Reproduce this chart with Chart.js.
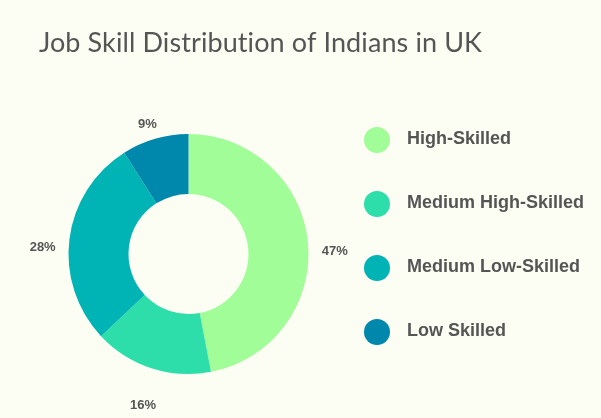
<!DOCTYPE html>
<html>
<head>
<meta charset="utf-8">
<script src="https://cdn.jsdelivr.net/npm/chart.js@4/dist/chart.umd.min.js"></script>
<style>
  html, body { margin: 0; padding: 0; background: #fcfdf3; }
  #wrap { position: relative; width: 601px; height: 418px; }
</style>
</head>
<body>
<div id="wrap"><canvas id="c" width="601" height="418"></canvas></div>
<script>
const titleText = 'Job Skill Distribution of Indians in UK';
const categories = ['High-Skilled', 'Medium High-Skilled', 'Medium Low-Skilled', 'Low Skilled'];
const shares = [47, 16, 28, 9];
const colors = ['#a0fd97', '#2ddeaa', '#00b3b4', '#0087ac'];

const textColor = '#555555';

const overlay = {
  id: 'overlay',
  afterDraw(chart) {
    const ctx = chart.ctx;
    ctx.save();
    // title
    ctx.fillStyle = textColor;
    ctx.font = '400 27px Lato';
    if ('letterSpacing' in ctx) ctx.letterSpacing = '0.1px';
    ctx.textAlign = 'center';
    ctx.textBaseline = 'alphabetic';
    ctx.fillText(titleText, 260.5, 51.5);
    if ('letterSpacing' in ctx) ctx.letterSpacing = '0px';

    // value labels outside arcs
    const meta = chart.getDatasetMeta(0);
    ctx.textBaseline = 'middle';
    ctx.font = 'bold 13px "Liberation Sans"';
    meta.data.forEach((arc, i) => {
      const p = arc.getProps(['x', 'y', 'startAngle', 'endAngle', 'outerRadius'], true);
      const mid = (p.startAngle + p.endAngle) / 2;
      const r = p.outerRadius + 27;
      const x = p.x + Math.cos(mid) * r;
      const y = p.y + Math.sin(mid) * r + 11.5;
      ctx.fillText(shares[i] + '%', x, y);
    });

    // legend
    ctx.textAlign = 'left';
    ctx.textBaseline = 'alphabetic';
    ctx.font = 'bold 18px "Liberation Sans"';
    categories.forEach((lab, i) => {
      const cy = 140 + i * 64;
      ctx.beginPath();
      ctx.arc(377, cy, 13, 0, Math.PI * 2);
      ctx.fillStyle = colors[i];
      ctx.fill();
      ctx.fillStyle = textColor;
      ctx.fillText(lab, 407, cy + 3.5);
    });
    ctx.restore();
  }
};

new Chart(document.getElementById('c'), {
  type: 'doughnut',
  data: {
    labels: categories,
    datasets: [{
      data: shares,
      backgroundColor: colors,
      borderWidth: 0,
      hoverOffset: 0
    }]
  },
  options: {
    responsive: false,
    animation: false,
    cutout: '50%',
    layout: { padding: { left: 68.5, right: 292.5, top: 134, bottom: 44 } },
    plugins: {
      legend: { display: false },
      title: { display: false },
      tooltip: { enabled: false }
    }
  },
  plugins: [overlay]
});
</script>
</body>
</html>
